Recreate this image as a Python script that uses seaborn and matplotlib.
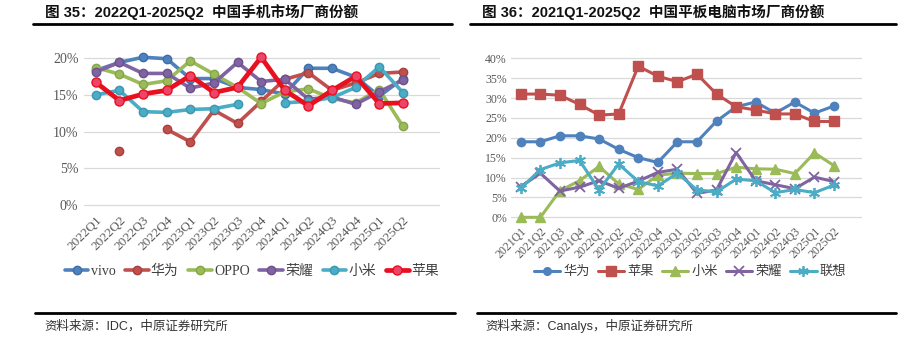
import numpy as np
import pandas as pd
import matplotlib
matplotlib.use("Agg")
import matplotlib.pyplot as plt
from matplotlib.lines import Line2D
import seaborn as sns

nan = np.nan

# 图35 中国手机市场厂商份额 (%)
phone_q = ['2022Q1', '2022Q2', '2022Q3', '2022Q4', '2023Q1', '2023Q2', '2023Q3',
           '2023Q4', '2024Q1', '2024Q2', '2024Q3', '2024Q4', '2025Q1', '2025Q2']
phone_vivo = [18.3, 19.4, 20.1, 19.9, 17.2, 17.2, 16.0, 15.7, 15.1, 18.6, 18.6, 17.4, 14.8, 17.2]
phone_huawei = [nan, 7.4, nan, 10.3, 8.6, 12.9, 11.1, 14.1, 17.1, 18.0, 15.6, 16.6, 17.9, 18.1]
phone_oppo = [18.7, 17.8, 16.4, 16.9, 19.6, 17.8, 16.0, 13.8, 15.4, 15.8, 14.5, 13.9, 15.7, 10.7]
phone_honor = [18.1, 19.4, 17.9, 17.9, 15.9, 16.6, 19.4, 16.8, 17.1, 14.4, 14.7, 13.7, 15.4, 17.0]
phone_xiaomi = [15.0, 15.6, 12.7, 12.6, 13.0, 13.1, 13.7, nan, 13.9, 14.1, 14.6, 16.0, 18.8, 15.3]
phone_apple = [16.7, 14.2, 15.1, 15.6, 17.6, 15.3, 16.0, 20.1, 15.6, 13.5, 15.6, 17.5, 13.8, 13.9]

# 图36 中国平板电脑市场厂商份额 (%)
tab_q = ['2021Q1', '2021Q2', '2021Q3', '2021Q4', '2022Q1', '2022Q2', '2022Q3', '2022Q4',
         '2023Q1', '2023Q2', '2023Q3', '2023Q4', '2024Q1', '2024Q2', '2024Q3', '2025Q1', '2025Q2']
tab_huawei = [19.0, 19.0, 20.5, 20.5, 19.7, 17.1, 15.0, 13.8, 19.0, 19.0, 24.2, 27.8, 29.0, 26.2, 29.0, 26.2, 28.0]
tab_apple = [31.0, 31.0, 30.7, 28.4, 25.7, 26.0, 38.0, 35.5, 34.1, 36.0, 31.0, 27.8, 27.0, 26.0, 26.0, 24.1, 24.1]
tab_xiaomi = [0, 0, 6.7, 9.2, 12.8, 8.4, 7.0, 10.6, 11.1, 11.0, 11.0, 12.6, 12.2, 12.1, 11.0, 16.2, 13.0]
tab_honor = [7.7, 11.1, 6.6, 7.6, 9.2, 7.3, 9.1, 11.3, 12.1, 6.0, 6.9, 16.3, 9.2, 8.2, 7.2, 10.1, 9.0]
tab_lenovo = [7.3, 12.0, 13.7, 14.3, 6.9, 13.4, 9.0, 7.9, 11.1, 6.9, 6.4, 9.6, 9.2, 6.2, 7.0, 6.2, 8.1]

BLUE, RED, GREEN, PURPLE, CYAN = '#4F81BD', '#C0504D', '#9BBB59', '#8064A2', '#4BACC6'

sns.set_theme(style='white')
plt.rcParams['font.family'] = ['Liberation Serif', 'Noto Sans CJK SC', 'DejaVu Sans']
SANS = ['Liberation Sans', 'Noto Sans CJK SC', 'DejaVu Sans']


def to_long(vals):
    # split series into contiguous segments so gaps stay gaps
    df = pd.DataFrame({'x': np.arange(len(vals)), 'y': vals})
    df['seg'] = df['y'].isna().cumsum()
    return df.dropna()


fig = plt.figure(figsize=(9.06, 3.56), dpi=100)
W, H = 906, 356


def axes_px(x0, x1, ytop, ybot):
    return fig.add_axes([x0 / W, 1 - ybot / H, (x1 - x0) / W, (ybot - ytop) / H])


# ---------- left chart ----------
ax1 = axes_px(84, 440, 52.1, 208.7)
left_series = [
    ('vivo', phone_vivo, dict(color=BLUE, lw=2.6, ms=6, mfc=BLUE, mec='#3F6EA6')),
    ('华为', phone_huawei, dict(color=RED, lw=2.6, ms=6, mfc=RED, mec='#A8403D')),
    ('OPPO', phone_oppo, dict(color=GREEN, lw=2.6, ms=6, mfc=GREEN, mec='#86A54A')),
    ('荣耀', phone_honor, dict(color=PURPLE, lw=2.6, ms=6, mfc=PURPLE, mec='#6C528C')),
    ('小米', phone_xiaomi, dict(color=CYAN, lw=2.6, ms=6, mfc=CYAN, mec='#3C97B0')),
    ('苹果', phone_apple, dict(color='#E8101E', lw=3.4, ms=6.5, mfc='#EC4569', mec='#E8101E')),
]
h1 = []
for name, vals, st in left_series:
    sns.lineplot(data=to_long(vals), x='x', y='y', units='seg', estimator=None, ax=ax1,
                 color=st['color'], lw=st['lw'], marker='o', markersize=st['ms'],
                 markerfacecolor=st['mfc'], markeredgecolor=st['mec'], markeredgewidth=1,
                 legend=False, clip_on=False)
    h1.append(Line2D([], [], color=st['color'], lw=st['lw'], marker='o', ms=st['ms'],
                     mfc=st['mfc'], mec=st['mec'], label=name))

ax1.set_xlim(-0.5, 14.57)
ax1.set_ylim(-0.5, 20.8)
ax1.set_yticks([0, 5, 10, 15, 20])
ax1.set_yticklabels(['0%', '5%', '10%', '15%', '20%'], fontsize=10, color='#595959')
ax1.set_xticks(range(len(phone_q)))
ax1.set_xticklabels(phone_q, rotation=45, ha='right', rotation_mode='anchor',
                    fontsize=9.5, color='#595959')
ax1.tick_params(length=0, pad=4)
ax1.grid(axis='y', color='#D9D9D9', lw=0.9)
ax1.set_axisbelow(True)
ax1.set_xlabel('')
ax1.set_ylabel('')
sns.despine(ax=ax1, left=True, bottom=True)

fig.legend(handles=h1, loc='center', bbox_to_anchor=(252 / W, 1 - 271 / H), ncol=6,
           frameon=False, fontsize=10, handlelength=1.7, columnspacing=0.7,
           handletextpad=0.15, labelcolor='#404040')

# ---------- right chart ----------
ax2 = axes_px(511, 862, 54.3, 221.3)
right_series = [
    ('华为', tab_huawei, dict(color=BLUE, marker='o', ms=6, mew=1)),
    ('苹果', tab_apple, dict(color=RED, marker='s', ms=7, mew=1)),
    ('小米', tab_xiaomi, dict(color=GREEN, marker='^', ms=7, mew=1)),
    ('荣耀', tab_honor, dict(color=PURPLE, marker='x', ms=7, mew=1.3)),
    ('联想', tab_lenovo, dict(color=CYAN, marker=(6, 2, 0), ms=8, mew=1.3)),
]
h2 = []
for name, vals, st in right_series:
    sns.lineplot(data=to_long(vals), x='x', y='y', units='seg', estimator=None, ax=ax2,
                 color=st['color'], lw=2.2, marker=st['marker'], markersize=st['ms'],
                 markerfacecolor=st['color'], markeredgecolor=st['color'],
                 markeredgewidth=st['mew'], legend=False, clip_on=False)
    h2.append(Line2D([], [], color=st['color'], lw=2.2, marker=st['marker'], ms=st['ms'] - 0.5,
                     mfc=st['color'], mec=st['color'], mew=st['mew'], label=name))

ax2.set_xlim(-0.5, 17.43)
ax2.set_ylim(-1, 41)
ax2.set_yticks(range(0, 41, 5))
ax2.set_yticklabels([f'{v}%' for v in range(0, 41, 5)], fontsize=8.5, color='#595959')
ax2.set_xticks(range(len(tab_q)))
ax2.set_xticklabels(tab_q, rotation=45, ha='right', rotation_mode='anchor',
                    fontsize=8.5, color='#595959')
ax2.tick_params(length=0, pad=3)
ax2.grid(axis='y', color='#D9D9D9', lw=0.9)
ax2.set_axisbelow(True)
ax2.set_xlabel('')
ax2.set_ylabel('')
sns.despine(ax=ax2, left=True, bottom=True)

fig.legend(handles=h2, loc='center', bbox_to_anchor=(690 / W, 1 - 272 / H), ncol=5,
           frameon=False, fontsize=9.5, handlelength=2.0, columnspacing=0.6,
           handletextpad=0.25, labelcolor='#404040')

# ---------- titles, rules, sources ----------
fig.text(45 / W, 1 - 12 / H, '图 35：2022Q1-2025Q2  中国手机市场厂商份额', family=SANS,
         fontsize=10.5, fontweight='bold', va='center', ha='left', color='#111111')
fig.text(482 / W, 1 - 12 / H, '图 36：2021Q1-2025Q2  中国平板电脑市场厂商份额', family=SANS,
         fontsize=10.5, fontweight='bold', va='center', ha='left', color='#111111')
for x0, x1 in [(33, 452), (470, 896)]:
    fig.add_artist(Line2D([x0 / W, x1 / W], [1 - 24 / H] * 2, color='black', lw=2))
for x0, x1 in [(35, 455), (477, 896)]:
    fig.add_artist(Line2D([x0 / W, x1 / W], [1 - 313 / H] * 2, color='black', lw=2))
fig.text(44 / W, 1 - 326 / H, '资料来源：IDC，中原证券研究所', family=SANS,
         fontsize=9, va='center', ha='left', color='#333333')
fig.text(485 / W, 1 - 326 / H, '资料来源：Canalys，中原证券研究所', family=SANS,
         fontsize=9, va='center', ha='left', color='#333333')

fig.savefig('out.png', dpi=100)
